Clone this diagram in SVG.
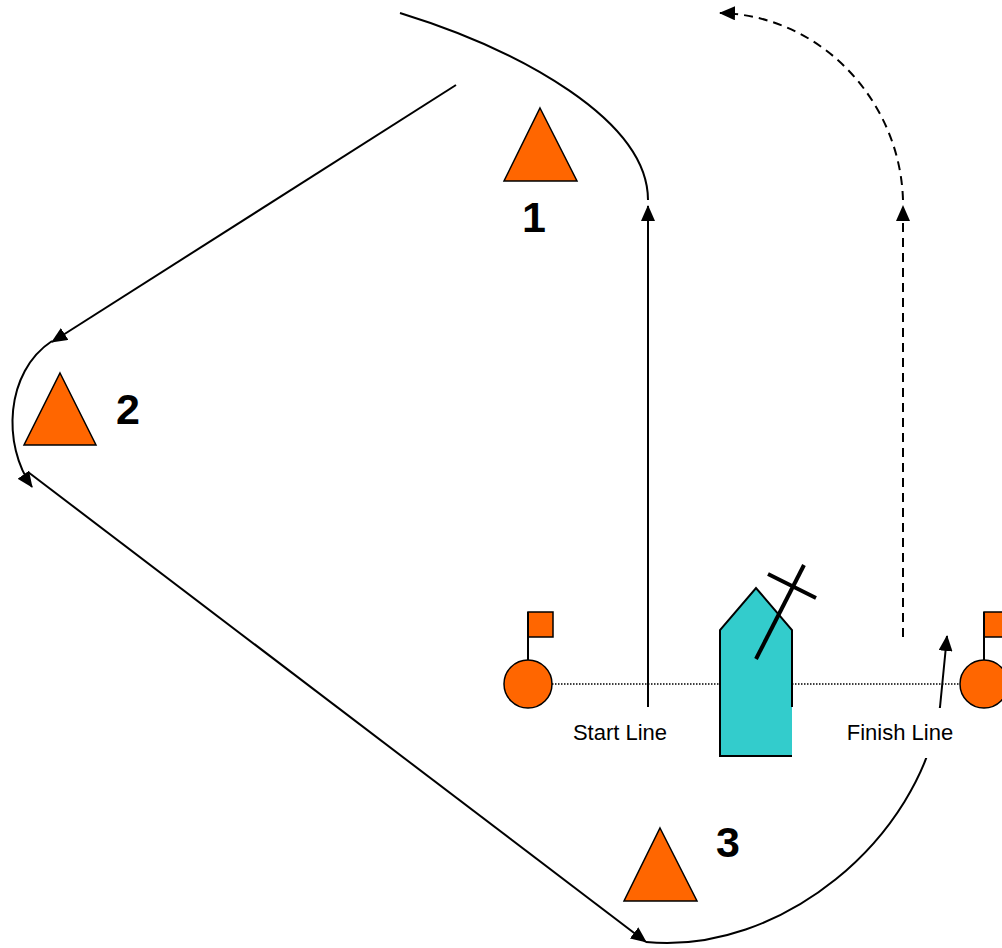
<svg xmlns="http://www.w3.org/2000/svg" width="1002" height="948" viewBox="0 0 1002 948">
<style>
.mark{fill:#FF6600;stroke:#000;stroke-width:1.5;stroke-linejoin:miter}
.lbl{font-family:"Liberation Sans",Arial,sans-serif;font-weight:bold;font-size:43px;fill:#000}
.caption{font-family:"Liberation Sans",Arial,sans-serif;font-size:22px;fill:#000}
.conn{fill:none;stroke:#000;stroke-width:2}
.dash{stroke-dasharray:9,6}
.dot{fill:none;stroke:#000;stroke-width:1.5;stroke-dasharray:1.5,1.5}
.bg{fill:#fff}
</style>
<defs>
<marker id="ah" markerUnits="userSpaceOnUse" markerWidth="16" markerHeight="14" viewBox="0 0 16 14" refX="15" refY="7" orient="auto">
<path d="M0,0 L16,7 L0,14 z" fill="#000"/>
</marker>
</defs>
<rect width="1002" height="948" fill="#fff"/>
<g id="start-finish-line">
<line class="dot" x1="552" y1="684" x2="960" y2="684"/>
</g>
<g id="connectors">
<path class="conn" d="M648,707 L648,206" marker-end="url(#ah)"/>
<path class="conn" d="M648,200 C648,120 520,50 400,13"/>
<path class="conn" d="M456,85 L52,342" marker-end="url(#ah)"/>
<path class="conn" d="M52,341 C5,372 2,445 32,487" marker-end="url(#ah)"/>
<path class="conn" d="M28,472 L646,942" marker-end="url(#ah)"/>
<path class="conn" d="M646,942 C780,955 920,840 940,707 L947,636" marker-end="url(#ah)"/>
<path class="conn dash" d="M903,637 L903,206" marker-end="url(#ah)"/>
<path class="conn dash" d="M903,200 C900,100 820,15 720,13" marker-end="url(#ah)"/>
</g>
<g id="mark1">
<polygon class="mark" points="540,108 577,181 504,181"/>
<text class="lbl" x="534" y="232" text-anchor="middle">1</text>
</g>
<g id="mark2">
<polygon class="mark" points="60,373 96,445 24,445"/>
<text class="lbl" x="128" y="424" text-anchor="middle">2</text>
</g>
<g id="mark3">
<polygon class="mark" points="660,828 697,901 624,901"/>
<text class="lbl" x="728" y="857" text-anchor="middle">3</text>
</g>
<g id="start-buoy">
<rect class="mark" x="528" y="612" width="25" height="25"/>
<line x1="528" y1="612" x2="528" y2="660" stroke="#000" stroke-width="2"/>
<circle class="mark" cx="528" cy="684" r="24"/>
</g>
<g id="finish-buoy">
<rect class="mark" x="984" y="612" width="25" height="25"/>
<line x1="984" y1="612" x2="984" y2="660" stroke="#000" stroke-width="2"/>
<circle class="mark" cx="984" cy="684" r="24"/>
</g>
<g id="committee-boat">
<polygon points="720,630 756,588 792,630 792,756 720,756" fill="#33CCCC"/>
<path d="M792,707 L792,630 L756,588 L720,630 L720,756 L792,756" fill="none" stroke="#000" stroke-width="2"/>
<line x1="756" y1="659" x2="804" y2="565" stroke="#000" stroke-width="4"/>
<line x1="768" y1="574" x2="816" y2="598" stroke="#000" stroke-width="4"/>
</g>
<g id="start-label">
<rect class="bg" x="562" y="708" width="112" height="50"/>
<text class="caption" x="620" y="740" font-size="22" text-anchor="middle">Start Line</text>
</g>
<g id="finish-label">
<rect class="bg" x="838" y="708" width="122" height="50"/>
<text class="caption" x="900" y="740" font-size="22" text-anchor="middle">Finish Line</text>
</g>
</svg>
